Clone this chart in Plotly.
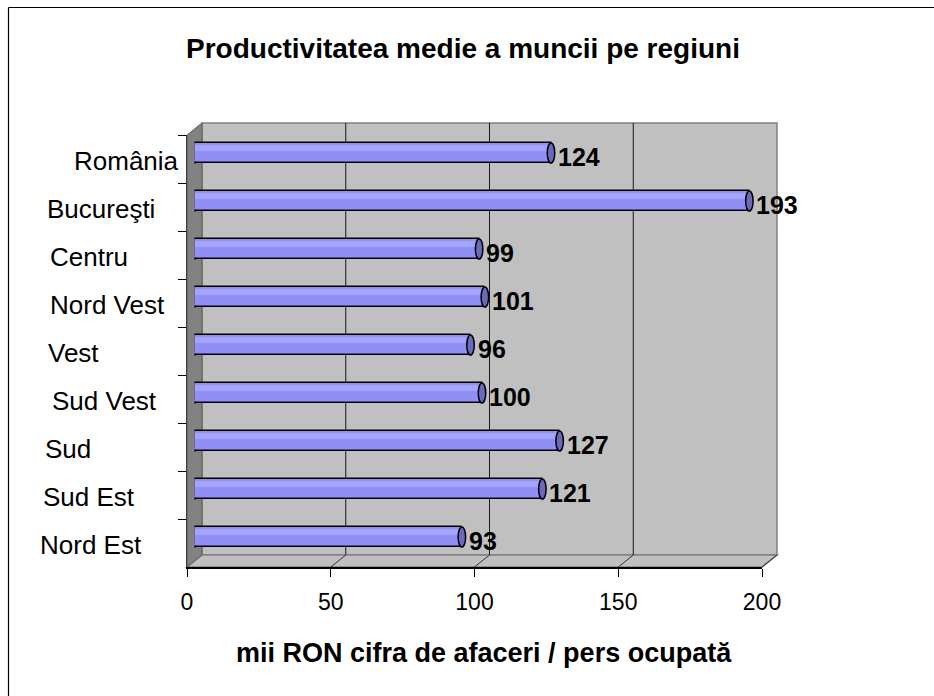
import plotly.graph_objects as go

# ---------------- data ----------------
regions = ["România", "Bucureşti", "Centru", "Nord Vest", "Vest",
           "Sud Vest", "Sud", "Sud Est", "Nord Est"]
values = [124, 193, 99, 101, 96, 100, 127, 121, 93]
x_ticks = [0, 50, 100, 150, 200]
title_text = "Productivitatea medie a muncii pe regiuni"
x_title = "mii RON cifra de afaceri / pers ocupată"

# ---------------- layout helpers (pixel geometry of the 3D frame) ----------------
W, H = 934, 696
FONT = "Liberation Sans, Arial, sans-serif"


def px(x):
    return x / W


def py(y):
    return 1 - y / H


FRONT_X0, FRONT_X1 = 187, 762      # front floor edge (0..200)
FRONT_Y0, FRONT_Y1 = 135, 567      # left axis top/bottom
DX, DY = 15, 12                    # full depth offset
BACK_X0, BACK_X1 = FRONT_X0 + DX, FRONT_X1 + DX
BACK_TOP, BACK_BOT = 123, FRONT_Y1 - DY
XMAX = 200


def xb(v):  # back wall x pixel for value v
    return BACK_X0 + v * (BACK_X1 - BACK_X0) / XMAX


def xf(v):  # front x pixel for value v
    return FRONT_X0 + v * (FRONT_X1 - FRONT_X0) / XMAX


BAR_COLOR = "#9090F4"
HILITE = "#A4A4FF"
CAP_COLOR = "#6A6AB8"
bar_w = 0.42

fig = go.Figure()

# main bars (mid depth)
fig.add_trace(go.Bar(
    x=values, y=regions, orientation="h", xaxis="x2", yaxis="y2",
    width=bar_w, marker=dict(color=BAR_COLOR, line=dict(color="black", width=1.5)),
    hoverinfo="x+y", showlegend=False,
))
# highlight band for cylinder shading
fig.add_trace(go.Bar(
    x=values, y=regions, orientation="h", xaxis="x2", yaxis="y2",
    width=0.12, offset=-0.17,
    marker=dict(color=HILITE, line=dict(width=0)),
    hoverinfo="skip", showlegend=False,
))

shapes = []
# back wall
shapes.append(dict(type="rect", xref="paper", yref="paper",
                   x0=px(BACK_X0), x1=px(BACK_X1), y0=py(BACK_BOT), y1=py(BACK_TOP),
                   fillcolor="#C0C0C0", line=dict(color="#808080", width=1.5), layer="below"))
# floor
shapes.append(dict(type="path", xref="paper", yref="paper",
                   path=f"M {px(FRONT_X0)} {py(FRONT_Y1)} L {px(FRONT_X1)} {py(FRONT_Y1)} "
                        f"L {px(BACK_X1)} {py(BACK_BOT)} L {px(BACK_X0)} {py(BACK_BOT)} Z",
                   fillcolor="#C0C0C0", line=dict(color="#808080", width=1.5), layer="below"))
# left wall
shapes.append(dict(type="path", xref="paper", yref="paper",
                   path=f"M {px(FRONT_X0)} {py(FRONT_Y0)} L {px(BACK_X0)} {py(BACK_TOP)} "
                        f"L {px(BACK_X0)} {py(BACK_BOT)} L {px(FRONT_X0)} {py(FRONT_Y1)} Z",
                   fillcolor="#828282", line=dict(color="#5A5A5A", width=1), layer="below"))
# gridlines on back wall + floor diagonals
for v in x_ticks[1:-1]:
    shapes.append(dict(type="line", xref="paper", yref="paper",
                       x0=px(xb(v)), x1=px(xb(v)), y0=py(BACK_BOT), y1=py(BACK_TOP),
                       line=dict(color="#1A1A1A", width=1), layer="below"))
for v in x_ticks[1:]:
    shapes.append(dict(type="line", xref="paper", yref="paper",
                       x0=px(xf(v)), x1=px(xb(v)), y0=py(FRONT_Y1), y1=py(BACK_BOT),
                       line=dict(color="#303030", width=1), layer="below"))

# cylinder end caps drawn from the data values on the bar axes
for i, v in enumerate(values):
    shapes.append(dict(type="circle", xref="x2", yref="y2",
                       x0=-1.1, x1=1.1, y0=i - bar_w / 2, y1=i + bar_w / 2,
                       fillcolor=BAR_COLOR, line=dict(color="black", width=1.5), layer="below"))
    shapes.append(dict(type="circle", xref="x2", yref="y2",
                       x0=v - 1.3, x1=v + 1.3, y0=i - bar_w / 2, y1=i + bar_w / 2,
                       fillcolor=CAP_COLOR, line=dict(color="black", width=1.5), layer="above"))

# outer border (top and left edges visible inside the picture)
shapes.append(dict(type="line", xref="paper", yref="paper",
                   x0=px(8.5), x1=1, y0=py(7.5), y1=py(7.5),
                   line=dict(color="black", width=1.2), layer="above"))
shapes.append(dict(type="line", xref="paper", yref="paper",
                   x0=px(8.5), x1=px(8.5), y0=0, y1=py(7.5),
                   line=dict(color="black", width=1.2), layer="above"))

annotations = []
# category labels
label_left_px = [72, 45, 48, 48, 46, 50, 43, 41, 38]
for name, lx in zip(regions, label_left_px):
    annotations.append(dict(x=px(lx), xref="paper", y=name, yref="y",
                            text=name, showarrow=False, xanchor="left", yanchor="middle",
                            yshift=-2, font=dict(family=FONT, size=26, color="black")))
# value labels
for name, v in zip(regions, values):
    annotations.append(dict(x=v, xref="x2", y=name, yref="y2", text=f"<b>{v}</b>",
                            showarrow=False, xanchor="left", yanchor="middle",
                            xshift=5, yshift=-4, font=dict(family=FONT, size=25, color="black")))
# x axis title
annotations.append(dict(x=px(484), y=py(653), xref="paper", yref="paper",
                        text=f"<b>{x_title}</b>", showarrow=False,
                        xanchor="center", yanchor="middle",
                        font=dict(family=FONT, size=27, color="black")))

fig.update_layout(
    width=W, height=H, autosize=False,
    margin=dict(l=0, r=0, t=0, b=0, pad=0, autoexpand=False),
    paper_bgcolor="white", plot_bgcolor="rgba(0,0,0,0)",
    barmode="overlay", bargap=0,
    title=dict(text=f"<b>{title_text}</b>", x=px(463), y=py(48),
               xanchor="center", yanchor="middle",
               font=dict(family=FONT, size=28, color="black")),
    xaxis=dict(domain=[px(FRONT_X0), px(FRONT_X1)], range=[0, XMAX], anchor="y",
               tickvals=x_ticks, ticks="outside", ticklen=8, tickcolor="black",
               showline=True, linecolor="black", linewidth=1.5, automargin=False,
               showgrid=False, zeroline=False, ticklabelstandoff=6,
               tickfont=dict(family=FONT, size=23, color="black")),
    yaxis=dict(domain=[py(FRONT_Y1), py(FRONT_Y0)], anchor="x", type="category",
               categoryorder="array", categoryarray=regions,
               range=[len(regions) - 0.5, -0.5], automargin=False,
               ticks="outside", tickson="boundaries", ticklen=8, tickcolor="black",
               showline=True, linecolor="#3A3A3A", linewidth=1,
               showticklabels=False, showgrid=False, zeroline=False),
    xaxis2=dict(domain=[px(FRONT_X0 + DX / 2), px(FRONT_X1 + DX / 2)], range=[0, XMAX],
                anchor="y2", visible=False, automargin=False),
    yaxis2=dict(domain=[py(FRONT_Y1 - DY / 2), py(FRONT_Y0 - DY / 2)], anchor="x2",
                type="category", categoryorder="array", categoryarray=regions,
                range=[len(regions) - 0.5, -0.5], visible=False, automargin=False),
    shapes=shapes, annotations=annotations,
)

fig.write_html(
    "out.html",
    config={"displayModeBar": False, "responsive": False},
    post_script="document.body.style.margin='0';document.body.style.overflow='hidden';",
)
